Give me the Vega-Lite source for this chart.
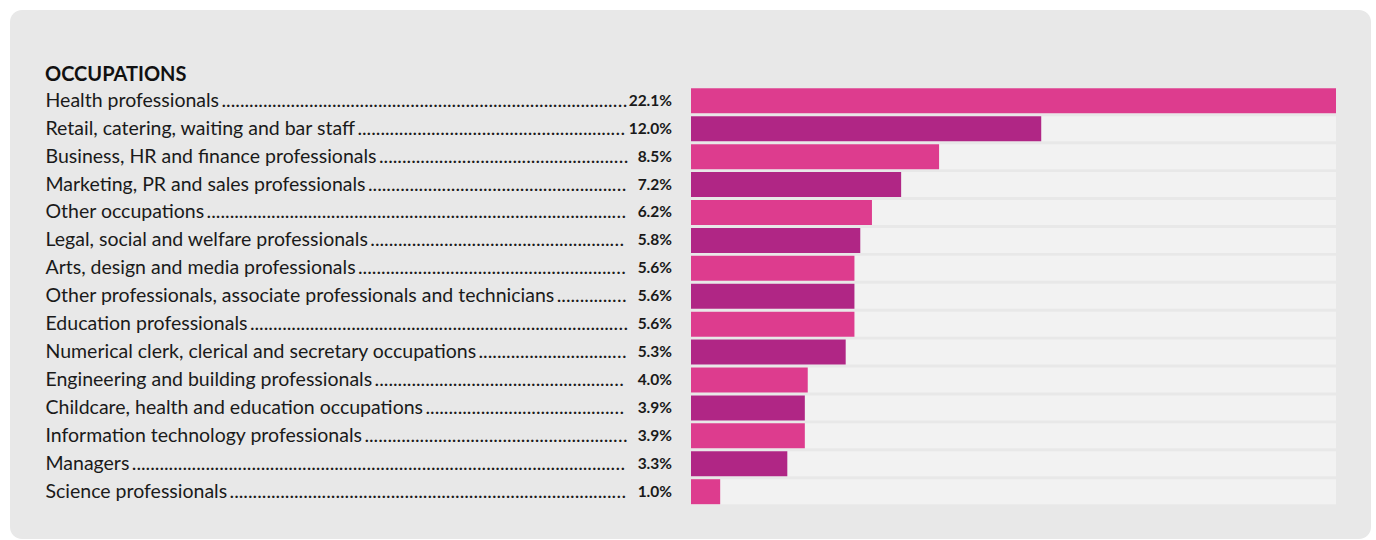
{
  "$schema": "https://vega.github.io/schema/vega-lite/v6.json",
  "width": 1361,
  "height": 529,
  "autosize": {"type": "none"},
  "padding": {"left": 10, "top": 10, "right": 5, "bottom": 1},
  "background": "white",
  "config": {
    "view": {"fill": "#e8e8e8", "cornerRadius": 12, "stroke": null},
    "font": "Lato"
  },
  "title": {
    "text": "OCCUPATIONS",
    "anchor": "start",
    "frame": "group",
    "orient": "top",
    "offset": -75,
    "dx": 35,
    "font": "Lato",
    "fontSize": 20,
    "fontWeight": "bold",
    "color": "#111111"
  },
  "data": {
    "values": [
      {"occupation": "Health professionals", "value": 0.221},
      {"occupation": "Retail, catering, waiting and bar staff", "value": 0.120},
      {"occupation": "Business, HR and finance professionals", "value": 0.085},
      {"occupation": "Marketing, PR and sales professionals", "value": 0.072},
      {"occupation": "Other occupations", "value": 0.062},
      {"occupation": "Legal, social and welfare professionals", "value": 0.058},
      {"occupation": "Arts, design and media professionals", "value": 0.056},
      {"occupation": "Other professionals, associate professionals and technicians", "value": 0.056},
      {"occupation": "Education professionals", "value": 0.056},
      {"occupation": "Numerical clerk, clerical and secretary occupations", "value": 0.053},
      {"occupation": "Engineering and building professionals", "value": 0.040},
      {"occupation": "Childcare, health and education occupations", "value": 0.039},
      {"occupation": "Information technology professionals", "value": 0.039},
      {"occupation": "Managers", "value": 0.033},
      {"occupation": "Science professionals", "value": 0.010}
    ]
  },
  "encoding": {
    "y": {
      "field": "occupation",
      "type": "nominal",
      "sort": null,
      "scale": {"range": [78.3, 494.2], "paddingInner": 0.1046, "paddingOuter": 0},
      "axis": {
        "title": null,
        "orient": "left",
        "domain": false,
        "ticks": false,
        "tickSize": 0,
        "labelAlign": "left",
        "labelBaseline": "middle",
        "labelPadding": -35,
        "labelFont": "Lato",
        "labelFontSize": 19.5,
        "labelColor": "#1a1a1a",
        "labelLimit": 583,
        "labelOverlap": false,
        "labelExpr": "datum.label + '\u2009' + '......................................................................................................................................................................'"
      }
    }
  },
  "layer": [
    {
      "mark": {"type": "bar", "color": "#f2f2f2"},
      "encoding": {
        "x": {"datum": 0.221, "type": "quantitative", "scale": {"domain": [-0.233335, 0.232991], "nice": false, "zero": false}, "axis": null},
        "x2": {"datum": 0}
      }
    },
    {
      "mark": {"type": "bar"},
      "encoding": {
        "x": {"field": "value", "type": "quantitative"},
        "x2": {"datum": 0},
        "color": {
          "field": "occupation",
          "type": "nominal",
          "legend": null,
          "scale": {
            "domain": [
              "Health professionals",
              "Retail, catering, waiting and bar staff",
              "Business, HR and finance professionals",
              "Marketing, PR and sales professionals",
              "Other occupations",
              "Legal, social and welfare professionals",
              "Arts, design and media professionals",
              "Other professionals, associate professionals and technicians",
              "Education professionals",
              "Numerical clerk, clerical and secretary occupations",
              "Engineering and building professionals",
              "Childcare, health and education occupations",
              "Information technology professionals",
              "Managers",
              "Science professionals"
            ],
            "range": ["#dd3c8e", "#b02685", "#dd3c8e", "#b02685", "#dd3c8e", "#b02685", "#dd3c8e", "#b02685", "#dd3c8e", "#b02685", "#dd3c8e", "#b02685", "#dd3c8e", "#b02685", "#dd3c8e"]
          }
        }
      }
    },
    {
      "mark": {"type": "text", "align": "right", "baseline": "middle", "dx": -19, "font": "Lato", "fontSize": 15.5, "fontWeight": "bold", "color": "#1a1a1a"},
      "encoding": {
        "x": {"datum": 0, "type": "quantitative"},
        "text": {"field": "value", "format": ".1%"}
      }
    }
  ]
}
